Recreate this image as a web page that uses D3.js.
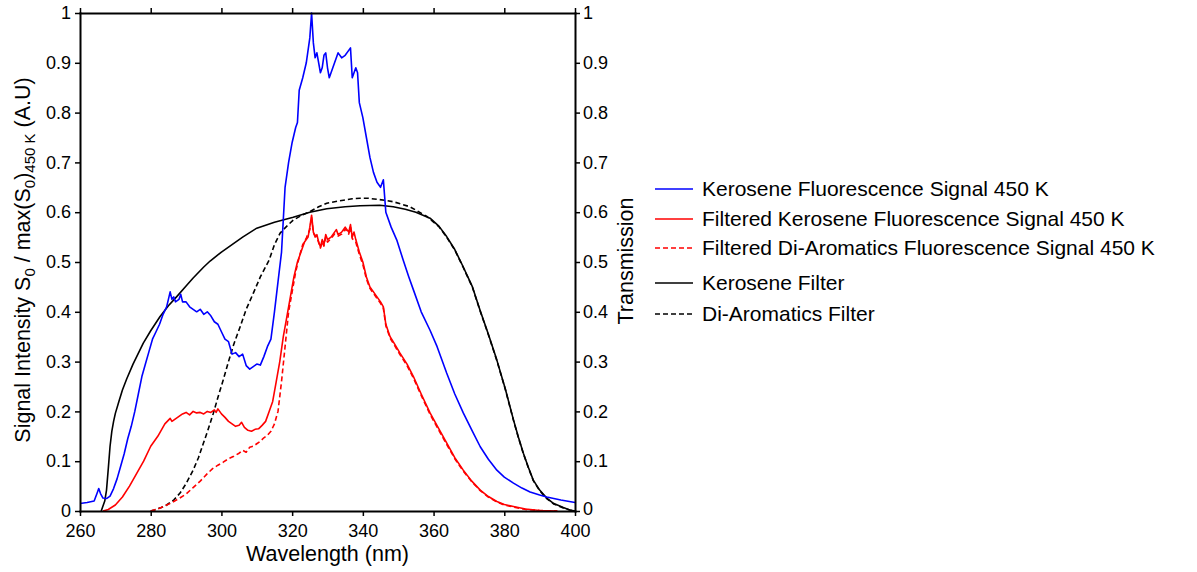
<!DOCTYPE html>
<html><head><meta charset="utf-8">
<script src="https://cdn.jsdelivr.net/npm/d3@7"></script>
<style>body{margin:0;background:#fff}svg{font-family:Arial,"Liberation Sans",sans-serif}</style>
</head><body><svg id="c" width="1197" height="572"></svg>
<script>
const xTicks=[260,280,300,320,340,360,380,400];
const yTicks=[0,0.1,0.2,0.3,0.4,0.5,0.6,0.7,0.8,0.9,1];
const yTickLabels=["0","0.1","0.2","0.3","0.4","0.5","0.6","0.7","0.8","0.9","1"];
const seriesNames=["Kerosene Fluorescence Signal 450 K","Filtered Kerosene Fluorescence Signal 450 K","Filtered Di-Aromatics Fluorescence Signal 450 K","Kerosene Filter","Di-Aromatics Filter"];

const keroSignal=[[260,0.015],[262,0.017],[264,0.02],[264.8,0.035],[265.3,0.045],[265.8,0.035],[266.5,0.026],[267.5,0.025],[268.5,0.03],[269.5,0.045],[270.5,0.065],[271.5,0.09],[272.5,0.115],[273.5,0.145],[274.5,0.17],[275.5,0.2],[276.5,0.235],[277.5,0.27],[278.5,0.295],[279.5,0.32],[280.5,0.345],[281.5,0.36],[282.5,0.375],[283.5,0.395],[284.5,0.41],[285,0.425],[285.5,0.44],[286,0.425],[286.5,0.43],[287,0.42],[288,0.425],[288.5,0.435],[289,0.42],[290,0.42],[291,0.41],[292,0.405],[293,0.4],[294,0.405],[295,0.395],[296,0.4],[297,0.392],[298,0.38],[299,0.375],[300,0.36],[301,0.345],[302,0.34],[303,0.315],[304,0.318],[305,0.31],[306,0.315],[307,0.292],[308,0.285],[309,0.29],[310,0.295],[311,0.293],[312,0.31],[313,0.33],[314,0.345],[315,0.4],[316,0.46],[317,0.52],[318,0.65],[319,0.7],[320,0.74],[321,0.77],[321.5,0.78],[322,0.845],[323,0.87],[324,0.9],[325,0.95],[325.5,1.0],[326,0.94],[326.5,0.91],[327,0.92],[327.5,0.9],[328,0.88],[328.5,0.89],[329,0.915],[329.5,0.92],[330,0.89],[330.5,0.87],[331,0.88],[332,0.9],[333,0.92],[334,0.91],[335,0.915],[336,0.925],[336.5,0.93],[337,0.87],[338,0.89],[338.5,0.88],[339,0.82],[340,0.79],[341,0.75],[342,0.71],[343,0.68],[344,0.66],[345,0.65],[345.8,0.665],[346.5,0.6],[348,0.57],[349.6,0.544],[351.4,0.504],[353,0.47],[354.3,0.444],[356.5,0.4],[359,0.363],[361,0.33],[363.7,0.277],[366,0.235],[368.4,0.197],[371,0.16],[373.2,0.129],[375.5,0.104],[377.9,0.082],[380,0.068],[382.6,0.056],[385,0.046],[387.3,0.038],[390,0.032],[392,0.028],[396,0.022],[400,0.017]];

const filteredKero=[[266.5,0],[268,0.003],[270,0.012],[272,0.028],[274,0.05],[276,0.075],[278,0.1],[280,0.13],[282,0.15],[284,0.175],[285.5,0.186],[286,0.18],[287,0.185],[288,0.19],[289,0.195],[290,0.198],[291,0.193],[292,0.2],[293,0.197],[294,0.198],[295,0.195],[296,0.2],[297,0.198],[298,0.203],[298.5,0.198],[299,0.205],[300,0.195],[301,0.188],[302,0.18],[303,0.175],[304,0.17],[305,0.172],[305.7,0.178],[306.5,0.168],[307.5,0.162],[308.5,0.16],[309.5,0.164],[310.5,0.165],[311.5,0.172],[312.5,0.18],[313.5,0.2],[314.5,0.22],[315.5,0.26],[316.5,0.3],[317.5,0.35],[318.5,0.39],[319.5,0.43],[320.5,0.47],[321.5,0.5],[322.5,0.52],[323.5,0.54],[324.5,0.55],[325,0.57],[325.5,0.594],[326,0.56],[326.5,0.55],[327,0.555],[327.5,0.54],[328,0.53],[328.5,0.545],[329,0.535],[329.5,0.555],[330,0.545],[331,0.55],[332,0.56],[332.5,0.565],[333,0.555],[334,0.56],[335,0.57],[336,0.56],[336.5,0.575],[337,0.55],[337.5,0.56],[338,0.545],[339,0.52],[340,0.5],[341,0.47],[342,0.45],[343,0.44],[344,0.43],[345,0.42],[345.8,0.41],[346.5,0.375],[347.7,0.35],[349,0.335],[350.5,0.317],[352.5,0.295],[354.3,0.27],[356.5,0.235],[359,0.197],[361.5,0.165],[363.7,0.137],[366,0.107],[368.4,0.082],[370.8,0.06],[373.2,0.042],[375.5,0.029],[377.9,0.019],[380,0.013],[382.6,0.009],[386,0.004],[390,0.001],[395,0]];

const filteredDiArom=[[280,0],[282,0.004],[284,0.01],[286,0.017],[288,0.025],[290,0.034],[292,0.047],[294,0.06],[296,0.075],[297.5,0.085],[299,0.092],[300.5,0.098],[302,0.105],[303.5,0.11],[305,0.116],[306,0.122],[307,0.118],[308,0.128],[309,0.13],[310,0.135],[311,0.14],[312,0.147],[313,0.152],[314,0.16],[315,0.175],[316,0.2],[317,0.26],[318,0.33],[319,0.4],[320,0.44],[321,0.48],[322,0.51],[323,0.535],[324,0.548],[325,0.565],[325.5,0.59],[326,0.558],[327,0.55],[328,0.528],[328.5,0.54],[329,0.532],[329.5,0.55],[330,0.54],[331,0.547],[332,0.556],[333,0.552],[334,0.556],[335,0.566],[336,0.556],[336.5,0.57],[337,0.547],[338,0.54],[339,0.515],[340,0.495],[341,0.466],[342,0.447],[343,0.437],[344,0.427],[345,0.417],[345.8,0.407],[346.5,0.372],[347.7,0.347],[349,0.332],[350.5,0.314],[352.5,0.292],[354.3,0.267],[356.5,0.232],[359,0.194],[361.5,0.162],[363.7,0.134],[366,0.105],[368.4,0.08],[370.8,0.059],[373.2,0.041],[375.5,0.028],[377.9,0.018],[380,0.012],[382.6,0.008],[386,0.003],[390,0.001],[395,0]];

const keroFilter=[[266,0],[267,0.02],[267.5,0.042],[268,0.085],[268.5,0.13],[269,0.16],[269.5,0.18],[270,0.196],[271,0.22],[272,0.243],[273.2,0.265],[275,0.295],[277.9,0.337],[280,0.362],[282.6,0.39],[285,0.412],[287.3,0.43],[290,0.452],[292,0.468],[295,0.49],[296.8,0.502],[300,0.52],[303,0.535],[306,0.55],[310,0.568],[315,0.58],[320.3,0.59],[325,0.6],[329.8,0.607],[335,0.611],[339.2,0.613],[344.8,0.614],[348.6,0.611],[352,0.606],[355,0.6],[359,0.588],[361.5,0.572],[363.7,0.551],[366,0.525],[368.4,0.49],[371,0.45],[373.1,0.404],[375.5,0.355],[377.9,0.303],[380.3,0.245],[382.6,0.183],[384,0.148],[385.4,0.116],[386.8,0.088],[388.2,0.062],[390,0.042],[392,0.026],[394,0.015],[396.7,0.007],[398.5,0.002],[400,0]];

const diAromFilter=[[280,0],[281,0.002],[283,0.007],[284.5,0.012],[286.5,0.022],[288.3,0.036],[290,0.055],[292,0.082],[293.5,0.107],[294.9,0.136],[296.3,0.165],[297.7,0.196],[299,0.228],[300.5,0.263],[302,0.3],[303.5,0.335],[305.3,0.37],[307,0.405],[309,0.437],[311,0.47],[313.5,0.504],[315,0.535],[316.6,0.558],[318.5,0.572],[320.3,0.584],[322.5,0.593],[325,0.601],[327.5,0.611],[329.8,0.618],[332,0.621],[334.5,0.624],[337,0.627],[339.2,0.628],[341.5,0.628],[343.9,0.626],[346.3,0.624],[348.6,0.621],[351,0.616],[353.3,0.611],[355.5,0.602],[358,0.592],[359,0.586],[361.5,0.571],[363.7,0.55],[366,0.524],[368.4,0.489],[371,0.449],[373.1,0.403],[375.5,0.354],[377.9,0.302],[380.3,0.244],[382.6,0.182],[384,0.147],[385.4,0.115],[386.8,0.087],[388.2,0.061],[390,0.041],[392,0.025],[394,0.014],[396.7,0.006],[398.5,0.002],[400,0]];

const svg=d3.select("#c");
const L=80,R=575,T=13,B=511;
const x=d3.scaleLinear().domain([260,400]).range([L,R]);
const y=d3.scaleLinear().domain([0,1]).range([B,T]);
const yR=d3.scaleLinear().domain([0,1]).range([B,T]);

const series=[
 {name:seriesNames[0],data:keroSignal,color:"#0000ff",dash:null},
 {name:seriesNames[1],data:filteredKero,color:"#ff0000",dash:null},
 {name:seriesNames[2],data:filteredDiArom,color:"#ff0000",dash:"5,3"},
 {name:seriesNames[3],data:keroFilter,color:"#000000",dash:null},
 {name:seriesNames[4],data:diAromFilter,color:"#000000",dash:"5,3"}
];
const line=d3.line().x(d=>x(d[0])).y(d=>y(d[1]));
const plot=svg.append("g");
[3,4,0,2,1].forEach(i=>{
  const s=series[i];
  plot.append("path").attr("d",line(s.data)).attr("fill","none")
   .attr("stroke",s.color).attr("stroke-width",1.6)
   .attr("stroke-dasharray",s.dash).attr("stroke-linejoin","round");
});

function styleAxis(g){
  g.selectAll(".domain").attr("stroke","#000").attr("stroke-width",2).attr("stroke-linecap","square");
  g.selectAll(".tick line").attr("stroke","#000").attr("stroke-width",1.5);
  g.selectAll(".tick text").attr("font-size",18).attr("fill","#000").attr("font-family","Arial, 'Liberation Sans', sans-serif");
}
const gx=svg.append("g").attr("transform",`translate(0,${B})`)
 .call(d3.axisBottom(x).tickValues(xTicks).tickFormat(d3.format("d")).tickSizeInner(5).tickSizeOuter(0).tickPadding(8));
styleAxis(gx);
const gt=svg.append("g").attr("transform",`translate(0,${T})`)
 .call(d3.axisTop(x).tickValues(xTicks).tickFormat("").tickSizeInner(5).tickSizeOuter(0));
styleAxis(gt);
const gy=svg.append("g").attr("transform",`translate(${L},0)`)
 .call(d3.axisLeft(y).tickValues(yTicks).tickFormat((d,i)=>yTickLabels[i]).tickSizeInner(5).tickSizeOuter(0).tickPadding(4));
styleAxis(gy);
const gr=svg.append("g").attr("transform",`translate(${R},0)`)
 .call(d3.axisRight(yR).tickValues(yTicks).tickFormat((d,i)=>yTickLabels[i]).tickSizeInner(5).tickSizeOuter(0).tickPadding(3));
styleAxis(gr);
gr.selectAll(".tick").filter(d=>d===0).select("text").attr("dy","0.2em");

svg.append("text").attr("x",(L+R)/2).attr("y",561).attr("text-anchor","middle")
 .attr("font-size",21.5).text("Wavelength (nm)");
const yl=svg.append("text").attr("transform",`translate(30,260) rotate(-90)`)
 .attr("text-anchor","middle").attr("font-size",21.5);
yl.append("tspan").text("Signal Intensity S");
yl.append("tspan").attr("font-size",15).attr("dy",5).text("0");
yl.append("tspan").attr("dy",-5).text(" / max(S");
yl.append("tspan").attr("font-size",15).attr("dy",5).text("0");
yl.append("tspan").attr("dy",-5).text(")");
yl.append("tspan").attr("font-size",15).attr("dy",5).text("450 K");
yl.append("tspan").attr("dy",-5).text(" (A.U)");
svg.append("text").attr("transform",`translate(633,261) rotate(-90)`)
 .attr("text-anchor","middle").attr("font-size",21.5).text("Transmission");

const legY=[189,219,248,283,314];
const lg=svg.append("g");
series.forEach((s,i)=>{
  lg.append("line").attr("x1",655).attr("x2",693).attr("y1",legY[i]).attr("y2",legY[i])
   .attr("stroke",s.color).attr("stroke-width",1.6).attr("stroke-dasharray",s.dash);
  lg.append("text").attr("x",702).attr("y",legY[i]+7).attr("font-size",21).text(s.name);
});
</script></body></html>
